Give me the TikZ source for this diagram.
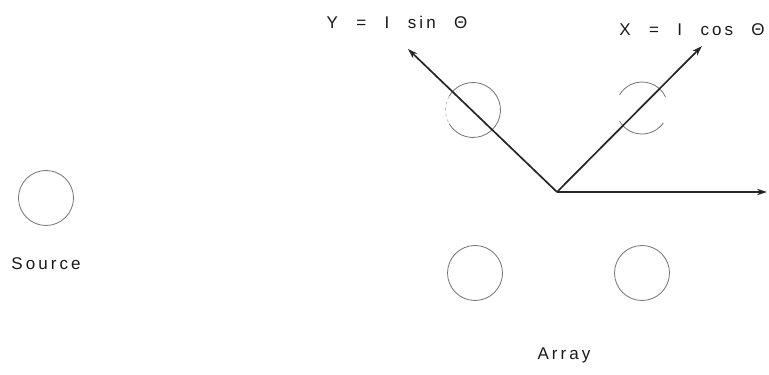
\documentclass[tikz,border=0pt]{standalone}
\usepackage{fontspec}
\newfontfamily\lblfont[LetterSpace=18]{Liberation Sans}
\usetikzlibrary{arrows.meta, positioning}

\begin{document}
\begin{tikzpicture}[
  x=1pt, y=1pt,
  elem/.style={circle, minimum size=55pt, inner sep=0pt},
  ring/.style={draw=black!55, line width=0.8pt},
  axis/.style={-{Stealth[length=10pt,width=6.5pt]}, line width=1.7pt, draw=black!85},
  lbl/.style={font=\lblfont\fontsize{17}{20}\selectfont, text=black!90, inner sep=0pt}
]
\useasboundingbox (0,0) rectangle (769,375);

% source and array elements
\node[elem, ring] (source) at (46,177) {};
\node[elem] (tl) at (473,265) {};
\node[elem] (tr) at (642,267) {};
\node[elem, ring] (bl) at (475,102) {};
\node[elem, ring] (br) at (642,102) {};

\draw[ring] (tl.center) ++(-150:27.5pt) arc[start angle=-150, end angle=150, radius=27.5pt];
\draw[ring, draw=black!25, dashed] (tl.center) ++(150:27.5pt) arc[start angle=150, end angle=210, radius=27.5pt];
\draw[ring] (tr.center) ++(25:26pt) arc[start angle=25, end angle=150, radius=26pt];
\draw[ring] (tr.center) ++(210:26pt) arc[start angle=210, end angle=325, radius=26pt];

% axes
\coordinate (o) at (557,183);
\coordinate (xtip) at (702,329);
\coordinate (ytip) at (408,326);
\coordinate (htip) at (767,183);
\draw[axis] (o) -- (ytip);
\draw[axis] (o) -- (xtip);
\draw[axis] (o) -- (htip);

% labels
\node[lbl] (ylbl) at (397,353) {Y \, = \, I \, sin \, Θ};
\node[lbl] (xlbl) at (692,345) {X \, = \, I \, cos \, Θ};
\node[lbl, below=32pt of source] (srclbl) {Source};
\node[lbl] (arrlbl) at (564,20) {Array};
\end{tikzpicture}
\end{document}
